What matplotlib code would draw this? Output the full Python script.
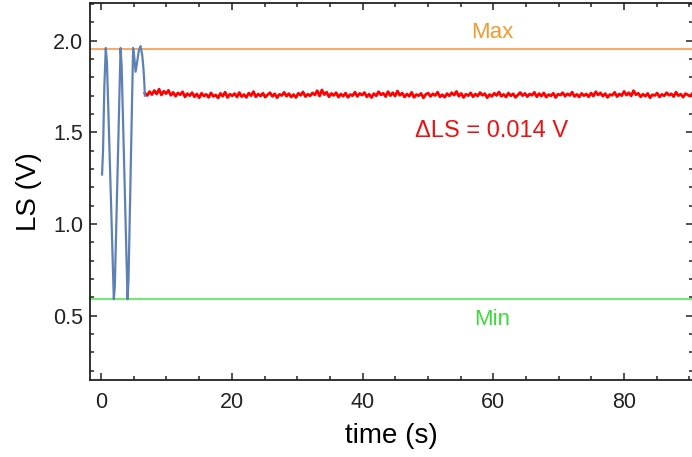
import matplotlib
matplotlib.use("Agg")
import matplotlib.pyplot as plt
import numpy as np
from matplotlib.ticker import MultipleLocator

plt.rcParams.update({"font.family": "Liberation Sans"})

# blue trace: sweep between Min and Max before locking
blue_t = [0.15, 0.3, 0.5, 0.72, 0.9, 1.95, 2.1, 2.98, 3.15, 4.05, 4.2, 4.9, 5.05,
          5.28, 5.5, 5.8, 6.04, 6.3, 6.5, 6.6, 6.7]
blue_ls = [1.27, 1.40, 1.75, 1.96, 1.88, 0.59, 0.66, 1.96, 1.86, 0.59, 0.70, 1.96, 1.92,
           1.83, 1.88, 1.95, 1.97, 1.92, 1.84, 1.78, 1.70]

# red trace: locked signal
red_start, red_end = 6.7, 93.0
red_ls = [1.714, 1.701, 1.722, 1.706, 1.728, 1.709, 1.735, 1.704, 1.724, 1.711,
          1.729, 1.702, 1.718, 1.697, 1.715, 1.705, 1.721, 1.693, 1.711, 1.700,
          1.716, 1.694, 1.709, 1.689, 1.713, 1.698, 1.707, 1.691, 1.715, 1.696,
          1.704, 1.688, 1.712, 1.697, 1.719, 1.690, 1.708, 1.699, 1.711, 1.693,
          1.717, 1.695, 1.706, 1.691, 1.714, 1.700, 1.722, 1.694, 1.709, 1.698,
          1.713, 1.692, 1.705, 1.716, 1.696, 1.710, 1.689, 1.707, 1.701, 1.718,
          1.697, 1.711, 1.693, 1.706, 1.690, 1.713, 1.702, 1.720, 1.695, 1.708,
          1.699, 1.715, 1.704, 1.727, 1.698, 1.731, 1.706, 1.719, 1.694, 1.712,
          1.701, 1.716, 1.692, 1.709, 1.697, 1.714, 1.691, 1.706, 1.700, 1.719,
          1.696, 1.712, 1.703, 1.717, 1.694, 1.708, 1.690, 1.711, 1.699, 1.721,
          1.704, 1.713, 1.695, 1.722, 1.700, 1.716, 1.698, 1.725, 1.702, 1.714,
          1.693, 1.709, 1.697, 1.718, 1.691, 1.706, 1.700, 1.712, 1.688, 1.707,
          1.714, 1.696, 1.710, 1.701, 1.719, 1.694, 1.705, 1.692, 1.711, 1.699,
          1.716, 1.703, 1.723, 1.697, 1.712, 1.690, 1.708, 1.700, 1.715, 1.694,
          1.709, 1.698, 1.717, 1.702, 1.711, 1.689, 1.706, 1.696, 1.713, 1.701,
          1.720, 1.697, 1.707, 1.693, 1.714, 1.699, 1.710, 1.691, 1.704, 1.717,
          1.700, 1.712, 1.695, 1.709, 1.702, 1.718, 1.694, 1.711, 1.698, 1.715,
          1.692, 1.706, 1.699, 1.713, 1.690, 1.708, 1.703, 1.716, 1.697, 1.710,
          1.701, 1.719, 1.696, 1.707, 1.693, 1.712, 1.700, 1.709, 1.694, 1.714,
          1.698, 1.721, 1.704, 1.715, 1.697, 1.711, 1.691, 1.706, 1.702, 1.718,
          1.695, 1.709, 1.700, 1.723, 1.703, 1.716, 1.699, 1.727, 1.705, 1.713,
          1.694, 1.708, 1.697, 1.712, 1.689, 1.705, 1.701, 1.714, 1.693, 1.707,
          1.699, 1.716, 1.702, 1.710, 1.695, 1.719, 1.700, 1.708, 1.692, 1.711,
          1.704, 1.697, 1.713, 1.701, 1.718, 1.696, 1.709, 1.694, 1.712, 1.700]
red_t = np.linspace(red_start, red_end, len(red_ls))

ls_max = 1.956
ls_min = 0.593
delta_ls = "\u0394LS = 0.014 V"

fig = plt.figure(figsize=(6.92, 4.57), dpi=100)
ax = fig.add_axes([0.130, 0.1685, 0.872, 0.8249])

ax.axhline(ls_max, color="#F9AA6A", lw=1.5)
ax.axhline(ls_min, color="#74E874", lw=1.5)
ax.plot(red_t, red_ls, color="#FF0000", lw=2.0)
ax.plot(blue_t, blue_ls, color="#5E81B5", lw=1.6)

ax.text(59.8, 2.047, "Max", color="#F39A2E", fontsize=16, ha="center", va="center")
ax.text(59.8, 0.478, "Min", color="#3CDB3C", fontsize=16, ha="center", va="center")
ax.text(59.8, 1.508, delta_ls, color="#EE1111", fontsize=17, ha="center", va="center")

ax.set_xlim(-1.7, 90.6)
ax.set_ylim(0.15, 2.205)
ax.xaxis.set_major_locator(MultipleLocator(20))
ax.xaxis.set_minor_locator(MultipleLocator(5))
ax.yaxis.set_major_locator(MultipleLocator(0.5))
ax.yaxis.set_minor_locator(MultipleLocator(0.1))
ax.tick_params(which="both", direction="in", top=True, right=True, colors="#222222", width=1.1)
ax.tick_params(which="major", length=5, labelsize=15.5)
ax.tick_params(axis="x", which="major", pad=9)
ax.tick_params(axis="y", which="major", pad=5)
ax.tick_params(which="minor", length=3)
for s in ax.spines.values():
    s.set_linewidth(1.3)
    s.set_color("#222222")

ax.set_xlabel("time (s)", fontsize=20, labelpad=7)
ax.set_ylabel("LS (V)", fontsize=20, labelpad=8)

fig.savefig("out.png", dpi=100)
